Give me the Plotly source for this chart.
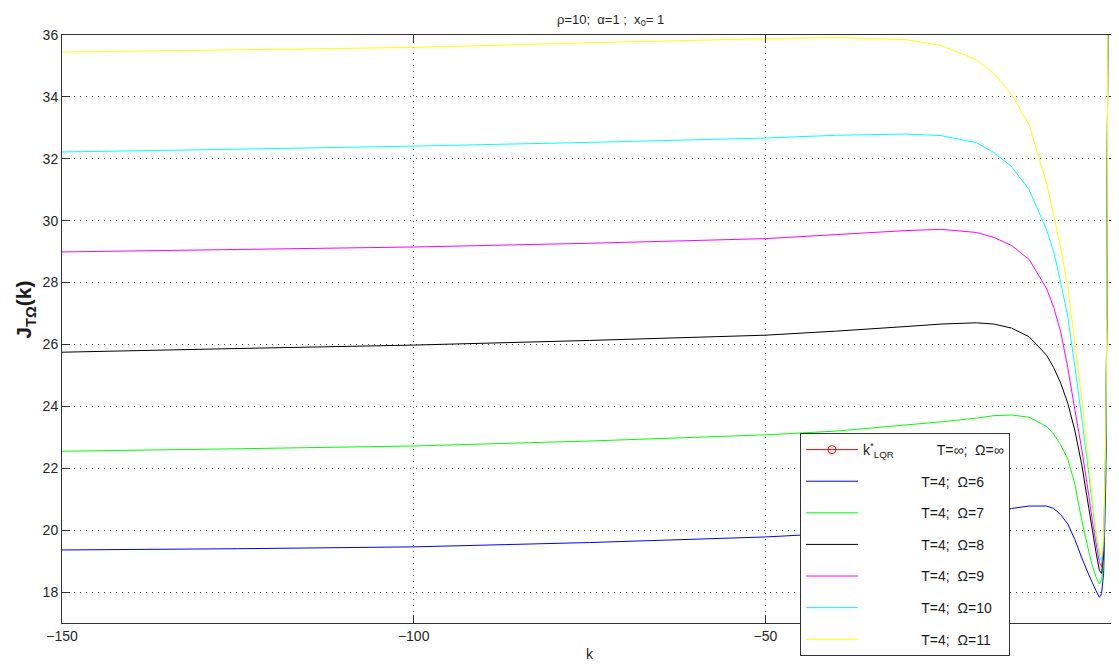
"""J_{T,Omega}(k) curves for finite-horizon LQ cost, MATLAB-style look."""

import plotly.graph_objects as go

# gain values k (shared by every curve)
K = [-150, -125, -100, -75, -50, -40, -30, -25, -20, -17.5, -15, -12.5, -10,
     -9, -8, -7, -6, -5, -4, -3.5, -3, -2.5, -2.2, -1.9, -1.6, -1.45, -1.25]

# cost curves, T=4, one per Omega
J_OMEGA_6 = [19.36, 19.40, 19.46, 19.60, 19.78, 19.90, 20.10, 20.25, 20.45, 20.58,
             20.70, 20.78, 20.78, 20.70, 20.50, 20.20, 19.70, 19.10, 18.55, 18.30,
             18.05, 17.83, 17.95, 18.60, 21.50, 27.0, 40.0]
J_OMEGA_7 = [22.55, 22.63, 22.72, 22.88, 23.08, 23.20, 23.40, 23.50, 23.62, 23.70,
             23.72, 23.65, 23.35, 23.10, 22.75, 22.30, 21.50, 20.30, 19.30, 18.85,
             18.50, 18.26, 18.40, 18.90, 22.0, 27.0, 40.0]
J_OMEGA_8 = [25.75, 25.87, 25.98, 26.13, 26.30, 26.43, 26.58, 26.66, 26.70, 26.66,
             26.53, 26.25, 25.65, 25.25, 24.75, 24.10, 23.23, 22.10, 20.70, 20.00,
             19.30, 18.70, 18.60, 19.20, 22.5, 27.0, 40.0]
J_OMEGA_9 = [28.99, 29.07, 29.15, 29.27, 29.42, 29.55, 29.68, 29.72, 29.62, 29.46,
             29.20, 28.75, 27.80, 27.20, 26.40, 25.25, 23.90, 22.60, 21.10, 20.30,
             19.60, 18.95, 18.82, 19.40, 22.8, 27.0, 40.0]
J_OMEGA_10 = [32.22, 32.31, 32.41, 32.53, 32.67, 32.76, 32.80, 32.75, 32.52, 32.20,
              31.75, 31.00, 29.70, 29.00, 28.00, 26.90, 25.30, 23.60, 21.80, 20.80,
              19.90, 19.15, 19.00, 19.60, 23.0, 27.0, 40.0]
J_OMEGA_11 = [35.45, 35.52, 35.60, 35.75, 35.88, 35.92, 35.85, 35.66, 35.20, 34.76,
              34.07, 33.10, 31.20, 30.20, 29.10, 27.85, 26.10, 24.20, 22.10, 21.00,
              20.00, 19.30, 19.15, 19.80, 23.2, 27.0, 40.0]

# infinite-horizon LQR optimum (outside the visible window, legend only)
LQR_K = [None]
LQR_J = [None]

NB = "\u00a0"
SERIES = [
    ("T=4;" + NB * 2 + "Ω=6", J_OMEGA_6, "#0000ff"),
    ("T=4;" + NB * 2 + "Ω=7", J_OMEGA_7, "#00ff00"),
    ("T=4;" + NB * 2 + "Ω=8", J_OMEGA_8, "#000000"),
    ("T=4;" + NB * 2 + "Ω=9", J_OMEGA_9, "#ff00ff"),
    ("T=4;" + NB * 2 + "Ω=10", J_OMEGA_10, "#00ffff"),
    ("T=4;" + NB * 2 + "Ω=11", J_OMEGA_11, "#ffff00"),
]

X_TICKS = [-150, -100, -50, 0]
Y_TICKS = list(range(18, 37, 2))

FONT = "Liberation Sans, Arial, Helvetica, sans-serif"
PAD = NB * 15

fig = go.Figure()

fig.add_trace(go.Scatter(
    x=LQR_K, y=LQR_J,
    mode="lines+markers",
    name="k<sup>*</sup><sub>LQR</sub>" + NB * 11 + "T=∞;" + NB * 2 + "Ω=∞",
    line={"color": "#ff0000", "width": 1},
    marker={"symbol": "circle-open", "color": "#ff0000", "size": 8},
    legendgroup="lqr",
))

for i, (label, values, color) in enumerate(SERIES):
    fig.add_trace(go.Scatter(
        x=K, y=values,
        mode="lines",
        name=PAD + label,
        line={"color": color, "width": 1, "simplify": False},
        legendgroup=f"g{i}",
    ))

axis_common = dict(
    showline=True,
    linecolor="#333333",
    linewidth=1,
    mirror="ticks",
    ticks="inside",
    ticklen=8,
    tickcolor="#333333",
    showgrid=True,
    gridcolor="#555555",
    griddash="1px,5px",
    gridwidth=1,
    zeroline=False,
    automargin=False,
    ticklabeloverflow="allow",
    tickfont={"size": 14, "color": "#262626", "family": FONT},
)

fig.update_xaxes(
    range=[-150, 0],
    tickvals=X_TICKS,
    title={"text": "k", "font": {"size": 14, "color": "#262626"}, "standoff": 9},
    **axis_common,
)
fig.update_yaxes(
    range=[17, 36],
    tickvals=Y_TICKS,
    **axis_common,
)

# y label placed by hand (MATLAB puts it slightly above the centre)
fig.add_annotation(
    text="<b>J<sub>TΩ</sub>(k)</b>",
    xref="paper", yref="paper", x=-0.035, y=0.533,
    xanchor="center", yanchor="middle", textangle=-90, showarrow=False,
    font={"size": 21, "color": "#1a1a1a", "family": FONT},
)

# the page body adds an 8px offset; the figure is sized so the page does not
# scroll and the plot box lands where the reference has it
fig.update_layout(
    width=1111,
    height=654,
    font={"family": FONT, "color": "#262626"},
    title={"text": "ρ=10;" + NB * 2 + "α=1" + NB + ";" + NB * 2 + "x<sub>0</sub>=" + NB + "1",
           "xref": "paper", "x": 0.52, "xanchor": "center",
           "y": 0.99, "yanchor": "top", "font": {"size": 13}},
    plot_bgcolor="white",
    paper_bgcolor="white",
    margin={"l": 54, "r": 2, "t": 27, "b": 39, "autoexpand": False},
    showlegend=True,
    legend={
        "x": 0.6995, "y": 0.3231, "xanchor": "left", "yanchor": "top",
        "bgcolor": "white", "bordercolor": "#333333", "borderwidth": 1,
        "font": {"size": 14, "color": "#1a1a1a"},
        "itemwidth": 52, "tracegroupgap": 10.4, "traceorder": "grouped",
    },
)

fig.write_html("out.html")
